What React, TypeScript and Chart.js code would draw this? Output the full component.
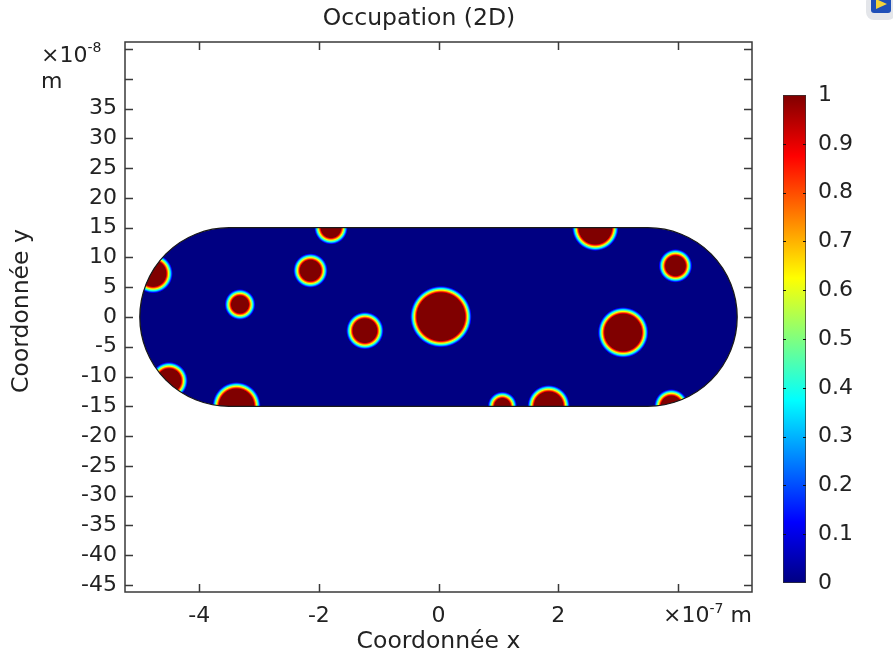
import React, { useEffect, useRef } from 'react';
import { Chart, registerables } from 'chart.js';

Chart.register(...registerables);

// ---------- text ----------
const TITLE = 'Occupation (2D)';
const X_LABEL = 'Coordonnée x';
const Y_LABEL = 'Coordonnée y';
const X_EXP = '-7';
const Y_EXP = '-8';
const UNIT = 'm';

// ---------- axes (x in 1e-7 m, y in 1e-8 m) ----------
const X_MIN = -5.24;
const X_MAX = 5.24;
const Y_MIN = -46.2;
const Y_MAX = 46.2;
const X_TICKS = [-4, -2, 0, 2, 4];
const X_TICK_LABEL_MAX = 2;
const Y_TICKS = [-45, -40, -35, -30, -25, -20, -15, -10, -5, 0, 5, 10, 15, 20, 25, 30, 35, 40, 45];
const Y_TICK_LABEL_MAX = 35;

// ---------- domain: stadium, half length (1e-7 m) and half width (1e-8 m) ----------
const DOMAIN_HALF_LENGTH = 5;
const DOMAIN_HALF_WIDTH = 15;

// ---------- particles: centre x (1e-7 m), centre y (1e-8 m), radius (1e-8 m) ----------
const PARTICLE_X = [-1.797, -2.14, -3.318, -4.771, -4.504, -3.376, 0.04, -1.23, 2.621, 3.961, 3.086, 3.891, 1.067, 1.841];
const PARTICLE_Y = [15, 7.8, 2.1, 7.3, -10.7, -15, 0.05, -2.3, 15, 8.6, -2.6, -15, -15, -15];
const PARTICLE_R = [2.75, 2.82, 2.52, 3.25, 3.08, 4.0, 5.1, 3.08, 3.84, 2.75, 4.18, 2.82, 2.4, 3.5];

// ---------- colour bar ----------
const CB_MIN = 0;
const CB_MAX = 1;
const CB_TICKS = [0, 0.1, 0.2, 0.3, 0.4, 0.5, 0.6, 0.7, 0.8, 0.9, 1];
const CMAP_POS = [0, 0.125, 0.375, 0.625, 0.875, 1];
const CMAP_COLORS = ['#000082', '#0000ff', '#00ffff', '#ffff00', '#ff0000', '#800000'];

// ---------- style ----------
const FONT = 'DejaVu Sans';
const FONT_SIZE = 22;
const TITLE_SIZE = 23.5;
const TEXT_COLOR = '#222222';
const AXIS_COLOR = '#3a3a3a';
const TICK_LEN = 8;
const RING_PX = 7;

Chart.defaults.font.family = FONT;

function stadiumPath(ctx: CanvasRenderingContext2D, xs: any, ys: any) {
  const yc = ys.getPixelForValue(0);
  const r = (ys.getPixelForValue(-DOMAIN_HALF_WIDTH) - ys.getPixelForValue(DOMAIN_HALF_WIDTH)) / 2;
  const capOffset = DOMAIN_HALF_LENGTH - DOMAIN_HALF_WIDTH / 10;
  const xl = xs.getPixelForValue(-capOffset);
  const xr = xs.getPixelForValue(capOffset);
  ctx.beginPath();
  ctx.moveTo(xl, yc - r);
  ctx.lineTo(xr, yc - r);
  ctx.arc(xr, yc, r, -Math.PI / 2, Math.PI / 2);
  ctx.lineTo(xl, yc + r);
  ctx.arc(xl, yc, r, Math.PI / 2, (3 * Math.PI) / 2);
  ctx.closePath();
}

const fieldPlugin = {
  id: 'field',
  beforeDatasetsDraw(chart: any) {
    const ctx: CanvasRenderingContext2D = chart.ctx;
    const xs = chart.scales.x;
    const ys = chart.scales.y;
    ctx.save();
    stadiumPath(ctx, xs, ys);
    ctx.fillStyle = CMAP_COLORS[0];
    ctx.fill();
    ctx.clip();
    const meta = chart.getDatasetMeta(0);
    meta.data.forEach((pt: any, i: number) => {
      const cx = pt.x;
      const cy = pt.y;
      const R = Math.abs(ys.getPixelForValue(PARTICLE_R[i]) - ys.getPixelForValue(0)) + 0.5;
      const inner = Math.max(0, (R - RING_PX) / R);
      const g = ctx.createRadialGradient(cx, cy, 0, cx, cy, R);
      g.addColorStop(0, CMAP_COLORS[CMAP_COLORS.length - 1]);
      for (let k = CMAP_POS.length - 1; k >= 0; k--) {
        g.addColorStop(inner + (1 - CMAP_POS[k]) * (1 - inner), CMAP_COLORS[k]);
      }
      ctx.fillStyle = g;
      ctx.beginPath();
      ctx.arc(cx, cy, R, 0, Math.PI * 2);
      ctx.fill();
    });
    ctx.restore();
    ctx.save();
    stadiumPath(ctx, xs, ys);
    ctx.strokeStyle = '#1a1a1a';
    ctx.lineWidth = 1.3;
    ctx.stroke();
    ctx.restore();
  },
  afterDraw(chart: any) {
    const ctx: CanvasRenderingContext2D = chart.ctx;
    const { left, right, top, bottom } = chart.chartArea;
    const xs = chart.scales.x;
    const ys = chart.scales.y;
    ctx.save();
    ctx.strokeStyle = AXIS_COLOR;
    ctx.lineWidth = 1.5;
    ctx.strokeRect(left, top, right - left, bottom - top);
    ctx.beginPath();
    X_TICKS.forEach((v) => {
      const px = Math.round(xs.getPixelForValue(v)) + 0.5;
      ctx.moveTo(px, bottom);
      ctx.lineTo(px, bottom - TICK_LEN);
      ctx.moveTo(px, top);
      ctx.lineTo(px, top + TICK_LEN);
    });
    Y_TICKS.forEach((v) => {
      const py = Math.round(ys.getPixelForValue(v)) + 0.5;
      ctx.moveTo(left, py);
      ctx.lineTo(left + TICK_LEN, py);
      ctx.moveTo(right, py);
      ctx.lineTo(right - TICK_LEN, py);
    });
    ctx.stroke();

    // title
    ctx.fillStyle = TEXT_COLOR;
    ctx.font = `${TITLE_SIZE}px "${FONT}"`;
    ctx.textAlign = 'center';
    ctx.textBaseline = 'middle';
    ctx.fillText(TITLE, 419, 19);

    // y axis title
    ctx.save();
    ctx.translate(22, 311);
    ctx.rotate(-Math.PI / 2);
    ctx.fillText(Y_LABEL, 0, 0);
    ctx.restore();

    // y exponent (top-left)
    ctx.textAlign = 'left';
    ctx.textBaseline = 'alphabetic';
    const yx0 = 41;
    ctx.font = `${FONT_SIZE}px "${FONT}"`;
    ctx.fillText('×10', yx0, 62);
    const w1 = ctx.measureText('×10').width;
    ctx.font = `14px "${FONT}"`;
    ctx.fillText(Y_EXP, yx0 + w1, 52);
    ctx.font = `${FONT_SIZE}px "${FONT}"`;
    ctx.fillText(UNIT, yx0, 88);

    // x exponent (bottom-right)
    const xx0 = 663;
    ctx.fillText('×10', xx0, 622);
    const w2 = ctx.measureText('×10').width;
    ctx.font = `14px "${FONT}"`;
    ctx.fillText(X_EXP, xx0 + w2, 613);
    const w3 = ctx.measureText(X_EXP).width;
    ctx.font = `${FONT_SIZE}px "${FONT}"`;
    ctx.fillText(UNIT, xx0 + w2 + w3 + 7, 622);

    // small window icon (top-right)
    ctx.fillStyle = '#e4e6ea';
    ctx.beginPath();
    ctx.roundRect(866, -6, 30, 26, 8);
    ctx.fill();
    ctx.fillStyle = '#1f4fb8';
    ctx.beginPath();
    ctx.roundRect(871, -4, 20, 17, 3);
    ctx.fill();
    ctx.fillStyle = '#f2d23a';
    ctx.beginPath();
    ctx.moveTo(876, -1);
    ctx.lineTo(887, 4);
    ctx.lineTo(876, 9);
    ctx.closePath();
    ctx.fill();
    ctx.restore();
  },
};

const colorbarPlugin = {
  id: 'cbTicks',
  afterDatasetsDraw(chart: any) {
    const ctx: CanvasRenderingContext2D = chart.ctx;
    const { left, right } = chart.chartArea;
    const ys = chart.scales.y;
    ctx.save();
    ctx.strokeStyle = '#111';
    ctx.lineWidth = 1;
    ctx.beginPath();
    CB_TICKS.forEach((v) => {
      if (v === CB_MIN || v === CB_MAX) return;
      const py = Math.round(ys.getPixelForValue(v)) + 0.5;
      ctx.moveTo(left, py);
      ctx.lineTo(left + 3, py);
      ctx.moveTo(right, py);
      ctx.lineTo(right - 3, py);
    });
    ctx.stroke();
    ctx.restore();
  },
};

export default function App() {
  const mainRef = useRef<HTMLCanvasElement | null>(null);
  const cbRef = useRef<HTMLCanvasElement | null>(null);

  useEffect(() => {
    const main = new Chart(mainRef.current as HTMLCanvasElement, {
      type: 'scatter',
      data: {
        datasets: [
          {
            data: PARTICLE_X.map((x, i) => ({ x, y: PARTICLE_Y[i] })),
            pointRadius: 0,
            pointHoverRadius: 0,
          },
        ],
      },
      options: {
        animation: false,
        responsive: false,
        events: [],
        layout: { padding: { top: 42, right: 141, left: 0, bottom: 0 } },
        plugins: { legend: { display: false }, title: { display: false }, tooltip: { enabled: false } },
        scales: {
          x: {
            type: 'linear',
            position: 'bottom',
            min: X_MIN,
            max: X_MAX,
            afterBuildTicks: (s: any) => {
              s.ticks = X_TICKS.map((v) => ({ value: v }));
            },
            afterFit: (s: any) => {
              s.height = 67;
            },
            grid: { display: false, drawTicks: false },
            border: { display: false },
            ticks: {
              padding: 11,
              color: TEXT_COLOR,
              font: { size: FONT_SIZE, family: FONT },
              maxRotation: 0,
              autoSkip: false,
              callback: (v: any) => (Number(v) > X_TICK_LABEL_MAX ? '' : String(v)),
            },
            title: {
              display: true,
              text: X_LABEL,
              color: TEXT_COLOR,
              font: { size: TITLE_SIZE, family: FONT },
              padding: { top: 0, bottom: 3 },
            },
          },
          y: {
            type: 'linear',
            position: 'left',
            min: Y_MIN,
            max: Y_MAX,
            afterBuildTicks: (s: any) => {
              s.ticks = Y_TICKS.map((v) => ({ value: v }));
            },
            afterFit: (s: any) => {
              s.width = 125;
            },
            grid: { display: false, drawTicks: false },
            border: { display: false },
            ticks: {
              padding: 8,
              color: TEXT_COLOR,
              font: { size: FONT_SIZE, family: FONT },
              autoSkip: false,
              callback: (v: any) => (Number(v) > Y_TICK_LABEL_MAX ? '' : String(v)),
            },
            title: { display: false },
          },
        },
      },
      plugins: [fieldPlugin],
    } as any);

    const cb = new Chart(cbRef.current as HTMLCanvasElement, {
      type: 'bar',
      data: {
        labels: [''],
        datasets: [
          {
            data: [[CB_MIN, CB_MAX]],
            barPercentage: 1,
            categoryPercentage: 1,
            borderColor: '#333',
            borderWidth: 1,
            borderSkipped: false,
            backgroundColor: (c: any) => {
              const ch = c.chart;
              const ys = ch.scales.y;
              if (!ys || !ch.chartArea) return CMAP_COLORS[0];
              const g = ch.ctx.createLinearGradient(0, ys.getPixelForValue(CB_MIN), 0, ys.getPixelForValue(CB_MAX));
              CMAP_POS.forEach((p, i) => g.addColorStop(p, CMAP_COLORS[i]));
              return g;
            },
          },
        ],
      },
      options: {
        animation: false,
        responsive: false,
        events: [],
        layout: { padding: { top: 95, left: 23, bottom: 76, right: 0 } },
        plugins: { legend: { display: false }, title: { display: false }, tooltip: { enabled: false } },
        scales: {
          x: { display: false },
          y: {
            type: 'linear',
            position: 'right',
            min: CB_MIN,
            max: CB_MAX,
            afterBuildTicks: (s: any) => {
              s.ticks = CB_TICKS.map((v) => ({ value: v }));
            },
            afterFit: (s: any) => {
              s.width = 87;
            },
            grid: { display: false, drawTicks: false },
            border: { display: false },
            ticks: {
              padding: 12,
              color: TEXT_COLOR,
              font: { size: FONT_SIZE, family: FONT },
              autoSkip: false,
              callback: (v: any) => String(Math.round(Number(v) * 10) / 10),
            },
          },
        },
      },
      plugins: [colorbarPlugin],
    } as any);

    return () => {
      main.destroy();
      cb.destroy();
    };
  }, []);

  return (
    <div style={{ position: 'fixed', left: 0, top: 0, width: 893, height: 659, background: '#fff', overflow: 'hidden' }}>
      <canvas ref={mainRef} width={893} height={659} style={{ position: 'absolute', left: 0, top: 0 }} />
      <canvas ref={cbRef} width={133} height={659} style={{ position: 'absolute', left: 760, top: 0 }} />
    </div>
  );
}
